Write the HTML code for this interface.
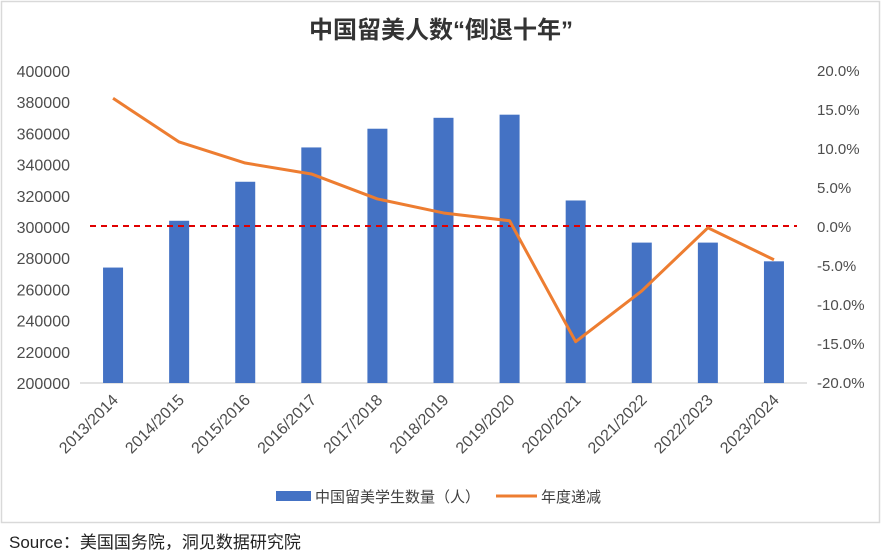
<!DOCTYPE html>
<html><head><meta charset="utf-8"><style>
body{margin:0;background:#fff;}
svg text{font-family:"Liberation Sans","Noto Sans CJK SC",sans-serif;}
</style></head><body>
<svg id="c" width="882" height="555" xmlns="http://www.w3.org/2000/svg">
<rect x="1.5" y="1.5" width="878" height="521" fill="#fff" stroke="#d9d9d9" stroke-width="1.5"/>
<text x="441" y="38" text-anchor="middle" font-size="24" font-weight="bold" fill="#333">中国留美人数“倒退十年”</text>
<g id="plot"></g>
<g>
<rect x="276" y="491" width="35" height="10" fill="#4472c4"/>
<text x="315" y="502" font-size="15" fill="#404040">中国留美学生数量（人）</text>
<line x1="496" y1="496" x2="537" y2="496" stroke="#ed7d31" stroke-width="3"/>
<text x="541" y="502" font-size="15" fill="#404040">年度递减</text>
</g>
<text x="9" y="548" font-size="17" fill="#222">Source：美国国务院，洞见数据研究院</text>
</svg>
<script>
const categories=["2013/2014","2014/2015","2015/2016","2016/2017","2017/2018","2018/2019","2019/2020","2020/2021","2021/2022","2022/2023","2023/2024"];
const students=[274000,304000,329000,351000,363000,370000,372000,317000,290000,290000,278000];
const change=[16.5,10.9,8.2,6.8,3.6,1.8,0.8,-14.7,-8.2,-0.1,-4.2];
const leftTicks=[200000,220000,240000,260000,280000,300000,320000,340000,360000,380000,400000];
const rightTicks=[-20,-15,-10,-5,0,5,10,15,20];
const NS="http://www.w3.org/2000/svg";
const g=document.getElementById("plot");
const x0=80,x1=807,yTop=71,yBot=383;
const step=(x1-x0)/categories.length;
const xc=i=>x0+step*(i+0.5);
const yL=v=>yBot-(v-200000)/200000*(yBot-yTop);
const yR=v=>yBot-(v+20)/40*(yBot-yTop);
function mk(t,a){const e=document.createElementNS(NS,t);for(const k in a)e.setAttribute(k,a[k]);g.appendChild(e);return e;}
leftTicks.forEach(v=>{
 const t=mk("text",{x:70,y:yL(v)+6,"text-anchor":"end","font-size":16,fill:"#4d4d4d"});t.textContent=v;
 
 
});
rightTicks.forEach(v=>{
 const t=mk("text",{x:817,y:yR(v)+5,"font-size":15,fill:"#4d4d4d"});t.textContent=v.toFixed(1)+"%";
 
 
});
const ax=mk("line",{x1:x0,y1:yBot,x2:x1,y2:yBot,stroke:"#d9d9d9","stroke-width":1.5});


students.forEach((v,i)=>{
 const b=mk("rect",{x:xc(i)-10,y:yL(v),width:20,height:yBot-yL(v),fill:"#4472c4"});
 
 
});
categories.forEach((c,i)=>{
 const t=mk("text",{x:0,y:0,"text-anchor":"end","font-size":16,fill:"#4d4d4d",transform:`translate(${xc(i)+6},${yBot+18}) rotate(-45)`});t.textContent=c;
 
 
});
const zl=mk("line",{x1:90,y1:yR(0)-1,x2:797,y2:yR(0)-1,stroke:"#e00000","stroke-width":2,"stroke-dasharray":"6,5"});


const ln=mk("polyline",{points:change.map((v,i)=>xc(i)+","+yR(v)).join(" "),fill:"none",stroke:"#ed7d31","stroke-width":3,"stroke-linejoin":"round"});


</script>
</body></html>
